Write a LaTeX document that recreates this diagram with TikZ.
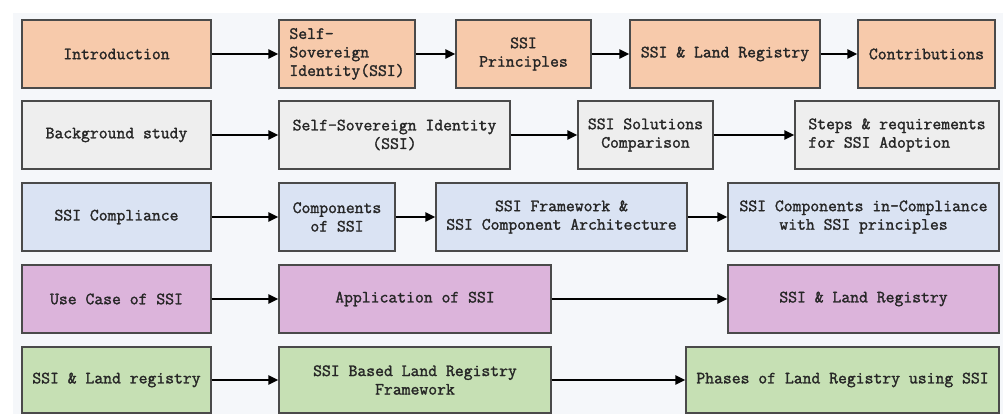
\documentclass[tikz,border=0pt]{standalone}
\usepackage{fontspec}
\setmonofont{Latin Modern Mono}[AutoFakeBold=1.6]
\usetikzlibrary{arrows.meta}
\definecolor{orangefill}{HTML}{F7CAAB}
\definecolor{greyfill}{HTML}{EEEEEE}
\definecolor{bluefill}{HTML}{DAE3F3}
\definecolor{purplefill}{HTML}{DCB4DB}
\definecolor{greenfill}{HTML}{C6E0B4}
\definecolor{panelfill}{HTML}{F5F7FA}
\definecolor{boxline}{HTML}{4A4A4A}
\tikzset{
  box/.style={draw=boxline, line width=1.2pt, rectangle, inner sep=0pt,
    font=\fontsize{17.2}{18.5}\selectfont\ttfamily\bfseries, text=black!85, align=center},
  flow/.style={-{Triangle[length=10pt,width=9pt]}, line width=2pt, black}
}
\begin{document}
\begin{tikzpicture}[x=1pt,y=-1pt]
\useasboundingbox (0,0) rectangle (1006,414);
\fill[panelfill] (13,13) rectangle (1003,414);

\node[box, fill=orangefill, minimum width=189pt, minimum height=68pt] (intro) at (116.5,54) {Introduction};
\node[box, fill=orangefill, minimum width=136pt, minimum height=68pt, align=left] (ssia) at (347,54) {Self-\\Sovereign\\Identity(SSI)};
\node[box, fill=orangefill, minimum width=135pt, minimum height=68pt] (princ) at (523.5,54) {SSI\\Principles};
\node[box, fill=orangefill, minimum width=190pt, minimum height=68pt] (landa) at (725,54) {SSI \& Land Registry};
\node[box, fill=orangefill, minimum width=137pt, minimum height=68pt] (contrib) at (926.5,54) {Contributions};

\node[box, fill=greyfill, minimum width=189pt, minimum height=68pt] (backgr) at (116.5,135) {Background study};
\node[box, fill=greyfill, minimum width=231pt, minimum height=68pt] (ssib) at (394.5,135) {Self-Sovereign Identity\\(SSI)};
\node[box, fill=greyfill, minimum width=135pt, minimum height=68pt] (compar) at (645.5,135) {SSI Solutions\\Comparison};
\node[box, fill=greyfill, minimum width=204pt, minimum height=68pt, align=left] (steps) at (897,135) {Steps \& requirements\\for SSI Adoption};

\node[box, fill=bluefill, minimum width=189pt, minimum height=68pt] (compl) at (116.5,217) {SSI Compliance};
\node[box, fill=bluefill, minimum width=116pt, minimum height=68pt] (compo) at (337,217) {Components\\of SSI};
\node[box, fill=bluefill, minimum width=251pt, minimum height=68pt] (frame) at (561.5,217) {SSI Framework \&\\SSI Component Architecture};
\node[box, fill=bluefill, minimum width=271pt, minimum height=68pt] (incompl) at (863.5,217) {SSI Components in-Compliance\\with SSI principles};

\node[box, fill=purplefill, minimum width=189pt, minimum height=68pt] (usecase) at (116.5,299) {Use Case of SSI};
\node[box, fill=purplefill, minimum width=272pt, minimum height=68pt] (appl) at (415,299) {Application of SSI};
\node[box, fill=purplefill, minimum width=271pt, minimum height=68pt] (landb) at (863.5,299) {SSI \& Land Registry};

\node[box, fill=greenfill, minimum width=189pt, minimum height=66pt] (landc) at (116.5,380) {SSI \& Land registry};
\node[box, fill=greenfill, minimum width=272pt, minimum height=66pt] (based) at (415,380) {SSI Based Land Registry\\Framework};
\node[box, fill=greenfill, minimum width=313pt, minimum height=66pt] (phases) at (842.5,380) {Phases of Land Registry using SSI};

\draw[flow] (intro) -- (ssia);
\draw[flow] (ssia) -- (princ);
\draw[flow] (princ) -- (landa);
\draw[flow] (landa) -- (contrib);

\draw[flow] (backgr) -- (ssib);
\draw[flow] (ssib) -- (compar);
\draw[flow] (compar) -- (steps);

\draw[flow] (compl) -- (compo);
\draw[flow] (compo) -- (frame);
\draw[flow] (frame) -- (incompl);

\draw[flow] (usecase) -- (appl);
\draw[flow] (appl) -- (landb);

\draw[flow] (landc) -- (based);
\draw[flow] (based) -- (phases);
\end{tikzpicture}
\end{document}
